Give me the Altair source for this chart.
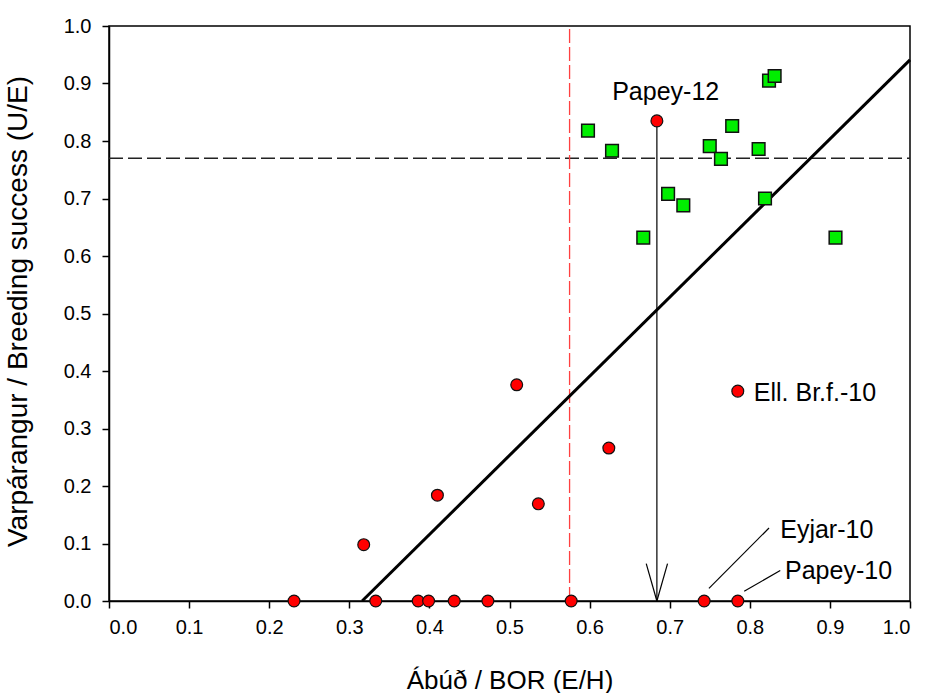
import altair as alt
import pandas as pd

# ---- data ----
circle_x = [0.231, 0.333, 0.386, 0.399, 0.431, 0.473, 0.577, 0.743, 0.785,
            0.318, 0.410, 0.509, 0.536, 0.624, 0.785, 0.684]
circle_y = [0.0, 0.0, 0.0, 0.0, 0.0, 0.0, 0.0, 0.0, 0.0,
            0.098, 0.184, 0.376, 0.169, 0.266, 0.365, 0.835]

square_x = [0.598, 0.628, 0.824, 0.831, 0.778, 0.750, 0.764, 0.811,
            0.698, 0.717, 0.819, 0.667, 0.907]
square_y = [0.818, 0.783, 0.905, 0.913, 0.826, 0.791, 0.769, 0.786,
            0.708, 0.688, 0.700, 0.632, 0.632]

x_ticks = [0.0, 0.1, 0.2, 0.3, 0.4, 0.5, 0.6, 0.7, 0.8, 0.9, 1.0]
y_ticks = [0.0, 0.1, 0.2, 0.3, 0.4, 0.5, 0.6, 0.7, 0.8, 0.9, 1.0]

x_title = "Ábúð / BOR (E/H)"
y_title = "Varpárangur / Breeding success (U/E)"

threshold_y = 0.77      # horizontal dashed line
threshold_x = 0.575     # red dashed vertical line
fit_x = [0.316, 1.0]    # regression line end points
fit_y = [0.0, 0.941]

arrow_x = 0.684
arrow_top = 0.835
arrow_head_dx = 0.0133
arrow_head_dy = 0.065

label_text = ["Papey-12", "Ell. Br.f.-10", "Eyjar-10", "Papey-10"]
label_x = [0.695, 0.805, 0.838, 0.844]
label_y = [0.886, 0.362, 0.123, 0.053]
label_align = ["center", "left", "left", "left"]

leader_x1 = [0.749, 0.793]
leader_y1 = [0.022, 0.017]
leader_x2 = [0.824, 0.838]
leader_y2 = [0.127, 0.053]

FONT = "Liberation Sans"

# ---- tables ----
circles = pd.DataFrame({"x": circle_x, "y": circle_y})
squares = pd.DataFrame({"x": square_x, "y": square_y})
hline = pd.DataFrame({"x": [0.0], "x2": [1.0], "y": [threshold_y]})
vline = pd.DataFrame({"x": [threshold_x], "y": [0.0], "y2": [1.0]})
fit = pd.DataFrame({"x": [fit_x[0]], "x2": [fit_x[1]], "y": [fit_y[0]], "y2": [fit_y[1]]})
arrow = pd.DataFrame({
    "x": [arrow_x, arrow_x - arrow_head_dx, arrow_x + arrow_head_dx],
    "x2": [arrow_x, arrow_x, arrow_x],
    "y": [arrow_top, arrow_head_dy, arrow_head_dy],
    "y2": [0.0, 0.0, 0.0],
})
leaders = pd.DataFrame({"x": leader_x1, "y": leader_y1, "x2": leader_x2, "y2": leader_y2})
labels = pd.DataFrame({"t": label_text, "x": label_x, "y": label_y, "a": label_align})

xscale = alt.Scale(domain=[0, 1], nice=False, zero=False)
yscale = alt.Scale(domain=[0, 1], nice=False, zero=False)

xaxis = alt.Axis(values=x_ticks, format=".1f", grid=False, tickSize=7, tickWidth=1.5,
                 domainWidth=1.5, domainColor="black", tickColor="black",
                 labelFont=FONT, labelFontSize=20, labelColor="black", labelPadding=9,
                 titleFont=FONT, titleFontSize=26, titleFontWeight="normal", titleColor="black",
                 titleY=87, titleX=400.5, titleBaseline="alphabetic", titleAlign="center")
yaxis = alt.Axis(values=y_ticks, format=".1f", grid=False, tickSize=7, tickWidth=1.5,
                 domainWidth=1.5, domainColor="black", tickColor="black",
                 labelFont=FONT, labelFontSize=20, labelColor="black", labelPadding=11,
                 titleFont=FONT, titleFontSize=28, titleFontWeight="normal", titleColor="black",
                 titleX=-83, titleY=285, titleAngle=270, titleBaseline="alphabetic",
                 titleAlign="center")


def X(f="x"):
    return alt.X(f"{f}:Q", scale=xscale, axis=xaxis, title=x_title)


def Y(f="y"):
    return alt.Y(f"{f}:Q", scale=yscale, axis=yaxis, title=y_title)


hl = alt.Chart(hline).mark_rule(color="#222222", strokeWidth=1.3, strokeDash=[14, 5]).encode(
    x=X(), x2="x2:Q", y=Y())
vl = alt.Chart(vline).mark_rule(color="#ff4040", strokeWidth=1.3, strokeDash=[14, 4]).encode(
    x=X(), y=Y(), y2="y2:Q")
fl = alt.Chart(fit).mark_rule(color="black", strokeWidth=3).encode(
    x=X(), x2="x2:Q", y=Y(), y2="y2:Q")
ar = alt.Chart(arrow).mark_rule(color="black", strokeWidth=1.2).encode(
    x=X(), x2="x2:Q", y=Y(), y2="y2:Q")
ld = alt.Chart(leaders).mark_rule(color="black", strokeWidth=1.2).encode(
    x=X(), x2="x2:Q", y=Y(), y2="y2:Q")

sq = alt.Chart(squares).mark_point(shape="square", filled=True, size=160, fill="#00ee00",
                                    stroke="#111111", strokeWidth=1.5, opacity=1).encode(
    x=X(), y=Y())
ci = alt.Chart(circles).mark_point(shape="circle", filled=True, size=140, fill="#ff0000",
                                    stroke="#111111", strokeWidth=1.2, opacity=1).encode(
    x=X(), y=Y())

tc = alt.Chart(labels).transform_filter(alt.datum.a == "center").mark_text(
    font=FONT, fontSize=25, color="black", align="center", baseline="middle").encode(
    x=X(), y=Y(), text="t:N")
tl = alt.Chart(labels).transform_filter(alt.datum.a == "left").mark_text(
    font=FONT, fontSize=25, color="black", align="left", baseline="middle").encode(
    x=X(), y=Y(), text="t:N")

chart = alt.layer(hl, vl, fl, ar, ld, sq, ci, tc, tl).properties(
    width=801, height=575,
    autosize=alt.AutoSizeParams(type="none"),
    padding={"left": 109, "top": 26, "right": 19, "bottom": 92},
    background="white",
).configure_view(stroke="black", strokeWidth=1.5)

chart.save("out.html", embed_options={"renderer": "svg", "actions": False})
